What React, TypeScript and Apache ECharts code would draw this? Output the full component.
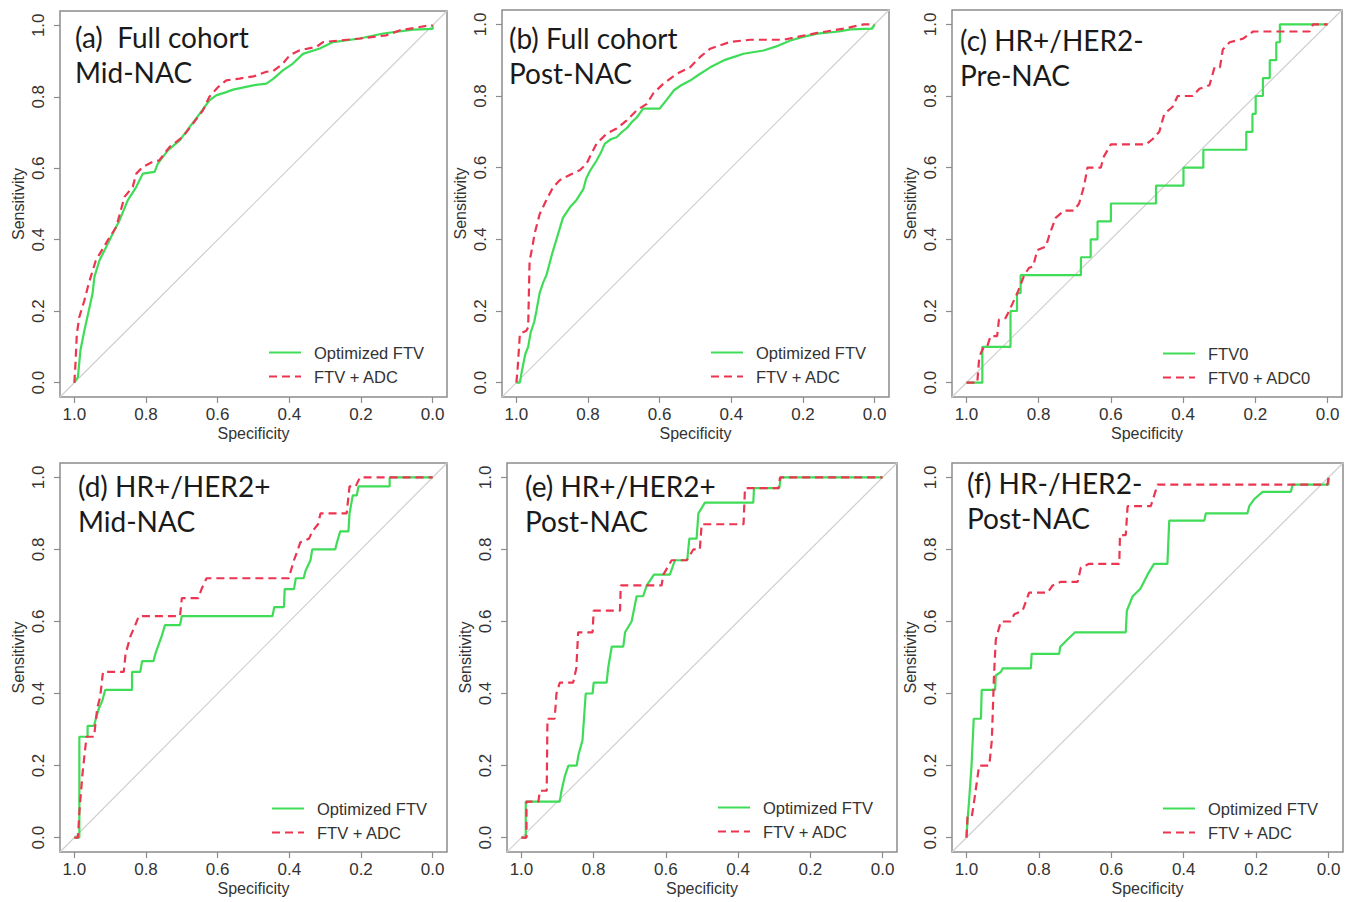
import React, { useEffect, useRef } from "react";
import * as echarts from "echarts";

// ---------- data: [specificity, sensitivity] ----------
const TICKS = [0, 0.2, 0.4, 0.6, 0.8, 1.0];
const DIAG = [[1.04, -0.04], [-0.04, 1.04]];

const namesMain = ["Optimized FTV", "FTV + ADC"];
const namesPre = ["FTV0", "FTV0 + ADC0"];

const titleA = "(a)  Full cohort\nMid-NAC";
const titleB = "(b) Full cohort\nPost-NAC";
const titleC = "(c) HR+/HER2-\nPre-NAC";
const titleD = "(d) HR+/HER2+\nMid-NAC";
const titleE = "(e) HR+/HER2+\nPost-NAC";
const titleF = "(f) HR-/HER2-\nPost-NAC";

const aFtv = [
  [1.0, 0], [0.99, 0.016], [0.983, 0.09], [0.972, 0.146], [0.96, 0.2], [0.949, 0.25], [0.944, 0.296],
  [0.93, 0.342], [0.911, 0.38], [0.893, 0.417], [0.874, 0.454], [0.851, 0.51], [0.827, 0.548],
  [0.809, 0.585], [0.776, 0.59], [0.767, 0.613], [0.739, 0.65], [0.706, 0.678], [0.678, 0.716],
  [0.65, 0.753], [0.623, 0.79], [0.604, 0.804], [0.576, 0.813], [0.557, 0.82], [0.501, 0.832],
  [0.464, 0.837], [0.445, 0.85], [0.418, 0.874], [0.39, 0.893], [0.362, 0.92], [0.315, 0.935],
  [0.278, 0.953], [0.203, 0.963], [0.138, 0.977], [0.054, 0.988], [0.0, 0.99], [0.0, 1.0],
];
const aComb = [
  [1.0, 0], [0.997, 0.05], [0.993, 0.137], [0.986, 0.184], [0.972, 0.23], [0.96, 0.277], [0.94, 0.342],
  [0.907, 0.398], [0.883, 0.436], [0.86, 0.52], [0.837, 0.548], [0.827, 0.585], [0.809, 0.604],
  [0.781, 0.618], [0.763, 0.622], [0.734, 0.66], [0.697, 0.688], [0.669, 0.725], [0.641, 0.762],
  [0.623, 0.8], [0.6, 0.826], [0.576, 0.846], [0.539, 0.851], [0.5, 0.857], [0.464, 0.87],
  [0.445, 0.872], [0.418, 0.893], [0.399, 0.916], [0.371, 0.93], [0.324, 0.94], [0.306, 0.953],
  [0.203, 0.963], [0.129, 0.972], [0.091, 0.986], [0.007, 1.0], [0.0, 1.0],
];

const bFtv = [
  [1, 0], [0.99, 0.0], [0.985, 0.03], [0.975, 0.08], [0.967, 0.1], [0.96, 0.14], [0.95, 0.17],
  [0.944, 0.2], [0.935, 0.25], [0.925, 0.28], [0.916, 0.3], [0.9, 0.36], [0.888, 0.4], [0.87, 0.46],
  [0.85, 0.49], [0.832, 0.51], [0.813, 0.54], [0.805, 0.57], [0.795, 0.59], [0.776, 0.62],
  [0.765, 0.64], [0.753, 0.667], [0.735, 0.68], [0.72, 0.685], [0.705, 0.7], [0.692, 0.71],
  [0.675, 0.73], [0.664, 0.74], [0.646, 0.765], [0.6, 0.765], [0.58, 0.79], [0.56, 0.816],
  [0.54, 0.83], [0.515, 0.843], [0.49, 0.86], [0.459, 0.88], [0.42, 0.9], [0.39, 0.91],
  [0.366, 0.918], [0.31, 0.927], [0.27, 0.94], [0.235, 0.955], [0.2, 0.965], [0.16, 0.974],
  [0.1, 0.98], [0.067, 0.986], [0.007, 0.988], [0, 1],
];
const bComb = [
  [1, 0], [0.997, 0.03], [0.99, 0.137], [0.972, 0.145], [0.967, 0.155], [0.963, 0.34], [0.955, 0.38],
  [0.949, 0.416], [0.935, 0.47], [0.916, 0.51], [0.897, 0.546], [0.879, 0.565], [0.85, 0.58],
  [0.823, 0.593], [0.804, 0.611], [0.79, 0.64], [0.776, 0.667], [0.748, 0.695], [0.72, 0.709],
  [0.692, 0.732], [0.664, 0.76], [0.636, 0.778], [0.618, 0.807], [0.59, 0.834], [0.552, 0.862],
  [0.515, 0.88], [0.487, 0.909], [0.459, 0.932], [0.403, 0.951], [0.347, 0.957], [0.254, 0.957],
  [0.216, 0.965], [0.16, 0.976], [0.086, 0.988], [0.03, 1], [0, 1],
];

const cFtv = [
  [1, 0], [0.956, 0], [0.956, 0.1], [0.878, 0.1], [0.878, 0.2], [0.86, 0.2], [0.86, 0.25], [0.85, 0.25],
  [0.85, 0.3], [0.683, 0.3], [0.683, 0.35], [0.656, 0.35], [0.656, 0.4], [0.637, 0.4], [0.637, 0.45],
  [0.6, 0.45], [0.6, 0.5], [0.475, 0.5], [0.475, 0.55], [0.399, 0.55], [0.399, 0.6], [0.344, 0.6],
  [0.344, 0.65], [0.225, 0.65], [0.225, 0.7], [0.208, 0.7], [0.208, 0.75], [0.199, 0.75], [0.199, 0.8],
  [0.179, 0.8], [0.179, 0.85], [0.16, 0.85], [0.16, 0.9], [0.142, 0.9], [0.142, 0.95], [0.132, 0.95],
  [0.132, 1], [0, 1],
];
const cComb = [
  [1, 0], [0.97, 0], [0.965, 0.065], [0.96, 0.083], [0.952, 0.1], [0.943, 0.1], [0.933, 0.13],
  [0.915, 0.13], [0.91, 0.176], [0.892, 0.18], [0.882, 0.2], [0.859, 0.25], [0.84, 0.3], [0.827, 0.32],
  [0.815, 0.325], [0.804, 0.37], [0.78, 0.38], [0.771, 0.41], [0.753, 0.46], [0.73, 0.48], [0.703, 0.48],
  [0.688, 0.5], [0.674, 0.55], [0.665, 0.6], [0.628, 0.6], [0.62, 0.63], [0.6, 0.665], [0.503, 0.665],
  [0.484, 0.68], [0.466, 0.7], [0.452, 0.75], [0.429, 0.77], [0.415, 0.8], [0.373, 0.8], [0.355, 0.82],
  [0.327, 0.83], [0.313, 0.88], [0.298, 0.88], [0.29, 0.93], [0.271, 0.95], [0.234, 0.96],
  [0.206, 0.98], [0.05, 0.98], [0.04, 1], [0, 1],
];

const dFtv = [
  [1, 0], [0.986, 0], [0.986, 0.28], [0.963, 0.28], [0.963, 0.31], [0.945, 0.31], [0.94, 0.33],
  [0.931, 0.36], [0.922, 0.38], [0.914, 0.41], [0.839, 0.41], [0.839, 0.46], [0.816, 0.46],
  [0.811, 0.49], [0.779, 0.49], [0.774, 0.51], [0.756, 0.56], [0.747, 0.59], [0.705, 0.59],
  [0.7, 0.615], [0.447, 0.615], [0.442, 0.64], [0.415, 0.64], [0.413, 0.69], [0.387, 0.69],
  [0.382, 0.72], [0.36, 0.72], [0.355, 0.74], [0.341, 0.77], [0.336, 0.8], [0.272, 0.8],
  [0.267, 0.82], [0.258, 0.85], [0.235, 0.85], [0.232, 0.9], [0.223, 0.95], [0.212, 0.95],
  [0.207, 0.975], [0.12, 0.975], [0.12, 1], [0, 1],
];
const dComb = [
  [1, 0], [0.99, 0], [0.986, 0.07], [0.977, 0.18], [0.966, 0.28], [0.945, 0.28], [0.936, 0.36],
  [0.928, 0.39], [0.92, 0.46], [0.862, 0.46], [0.857, 0.51], [0.843, 0.56], [0.83, 0.59],
  [0.82, 0.615], [0.705, 0.615], [0.7, 0.665], [0.654, 0.665], [0.645, 0.69], [0.631, 0.72],
  [0.401, 0.72], [0.396, 0.74], [0.387, 0.77], [0.369, 0.82], [0.345, 0.83], [0.336, 0.85],
  [0.32, 0.87], [0.313, 0.9], [0.24, 0.9], [0.232, 0.975], [0.215, 0.975], [0.203, 1], [0, 1],
];

const eFtv = [
  [1, 0], [0.988, 0], [0.988, 0.1], [0.894, 0.1], [0.889, 0.13], [0.88, 0.17], [0.87, 0.2],
  [0.847, 0.2], [0.842, 0.23], [0.831, 0.27], [0.822, 0.4], [0.803, 0.4], [0.8, 0.43], [0.764, 0.43],
  [0.76, 0.47], [0.75, 0.53], [0.718, 0.53], [0.713, 0.57], [0.695, 0.6], [0.681, 0.67],
  [0.663, 0.67], [0.653, 0.7], [0.633, 0.73], [0.589, 0.73], [0.575, 0.77], [0.541, 0.77],
  [0.535, 0.83], [0.515, 0.83], [0.51, 0.9], [0.492, 0.93], [0.358, 0.93], [0.356, 0.97],
  [0.286, 0.97], [0.282, 1], [0, 1],
];
const eComb = [
  [1, 0], [0.986, 0], [0.986, 0.1], [0.953, 0.1], [0.949, 0.13], [0.93, 0.13], [0.928, 0.33],
  [0.908, 0.33], [0.903, 0.4], [0.894, 0.43], [0.857, 0.43], [0.848, 0.47], [0.843, 0.57],
  [0.803, 0.57], [0.8, 0.63], [0.727, 0.63], [0.725, 0.7], [0.612, 0.7], [0.607, 0.73],
  [0.584, 0.77], [0.542, 0.77], [0.524, 0.8], [0.506, 0.8], [0.501, 0.87], [0.385, 0.87],
  [0.381, 0.97], [0.288, 0.97], [0.284, 1], [0, 1],
];

const fFtv = [
  [1, 0], [0.997, 0.05], [0.993, 0.1], [0.986, 0.2], [0.98, 0.33], [0.96, 0.33], [0.958, 0.41],
  [0.921, 0.41], [0.919, 0.45], [0.905, 0.46], [0.9, 0.47], [0.822, 0.47], [0.82, 0.51],
  [0.744, 0.51], [0.741, 0.53], [0.721, 0.55], [0.7, 0.57], [0.56, 0.57], [0.557, 0.63],
  [0.541, 0.67], [0.52, 0.69], [0.5, 0.73], [0.482, 0.76], [0.445, 0.76], [0.44, 0.88],
  [0.343, 0.88], [0.339, 0.9], [0.224, 0.9], [0.219, 0.92], [0.205, 0.94], [0.182, 0.96],
  [0.104, 0.96], [0.099, 0.98], [0, 0.98], [0, 1],
];
const fComb = [
  [1, 0], [0.997, 0.06], [0.985, 0.06], [0.979, 0.1], [0.965, 0.2], [0.937, 0.2], [0.93, 0.27],
  [0.924, 0.45], [0.919, 0.55], [0.905, 0.6], [0.878, 0.6], [0.868, 0.62], [0.845, 0.63],
  [0.827, 0.68], [0.776, 0.68], [0.762, 0.7], [0.739, 0.71], [0.693, 0.71], [0.684, 0.75],
  [0.661, 0.76], [0.578, 0.76], [0.576, 0.84], [0.56, 0.84], [0.555, 0.92], [0.491, 0.92],
  [0.472, 0.98], [0.003, 0.98], [0, 1],
];

// ---------- panels & layout ----------
const panels = [
  { title: titleA, names: namesMain, ftv: aFtv, comb: aComb },
  { title: titleB, names: namesMain, ftv: bFtv, comb: bComb },
  { title: titleC, names: namesPre, ftv: cFtv, comb: cComb },
  { title: titleD, names: namesMain, ftv: dFtv, comb: dComb },
  { title: titleE, names: namesMain, ftv: eFtv, comb: eComb },
  { title: titleF, names: namesMain, ftv: fFtv, comb: fComb },
];

// box: [left, top, width, height]; title: [left, top]; legend: [left, top]
const layout = [
  { box: [60, 11, 387, 386], title: [75, 19], legend: [268, 344] },
  { box: [502, 10, 387, 387], title: [509, 20], legend: [710, 344] },
  { box: [952, 10, 390, 387], title: [960, 22], legend: [1162, 345] },
  { box: [60, 463, 387, 389], title: [78, 468], legend: [271, 800] },
  { box: [507, 463, 390, 389], title: [525, 468], legend: [717, 799] },
  { box: [952, 463, 391, 389], title: [967, 465], legend: [1162, 800] },
];

const GREEN = "#3fdc58";
const RED = "#ec3550";
const FRAME = "#8c8c8c";
const TEXT = "#333333";
const SANS = "'Liberation Sans', Arial, sans-serif";

function buildOption() {
  const grid = layout.map((L) => ({
    left: L.box[0],
    top: L.box[1],
    width: L.box[2],
    height: L.box[3],
    show: true,
    borderColor: FRAME,
    borderWidth: 1.5,
    backgroundColor: "transparent",
    containLabel: false,
    outerBoundsMode: "none",
  }));

  const xAxis = panels.map((_, i) => ({
    type: "value",
    gridIndex: i,
    min: -0.04,
    max: 1.04,
    inverse: true,
    name: "Specificity",
    nameLocation: "middle",
    nameGap: 28,
    nameTextStyle: { fontFamily: SANS, fontSize: 16, color: TEXT },
    axisLine: { show: false, onZero: false },
    axisTick: { show: true, customValues: TICKS, length: 6, lineStyle: { color: FRAME, width: 1.2 } },
    axisLabel: {
      customValues: TICKS,
      formatter: (v: number) => v.toFixed(1),
      fontFamily: SANS,
      fontSize: 17,
      color: TEXT,
      margin: 9,
    },
    splitLine: { show: false },
  }));

  const yAxis = panels.map((_, i) => ({
    type: "value",
    gridIndex: i,
    min: -0.04,
    max: 1.04,
    name: "Sensitivity",
    nameLocation: "middle",
    nameGap: 34,
    nameTextStyle: { fontFamily: SANS, fontSize: 16, color: TEXT },
    axisLine: { show: false, onZero: false },
    axisTick: { show: true, customValues: TICKS, length: 6, lineStyle: { color: FRAME, width: 1.2 } },
    axisLabel: {
      customValues: TICKS,
      formatter: (v: number) => v.toFixed(1),
      rotate: 90,
      fontFamily: SANS,
      fontSize: 17,
      color: TEXT,
      margin: 13,
    },
    splitLine: { show: false },
  }));

  const series: any[] = [];
  panels.forEach((p, i) => {
    series.push({
      type: "line",
      xAxisIndex: i,
      yAxisIndex: i,
      data: DIAG,
      symbol: "none",
      silent: true,
      lineStyle: { color: "#cfcfcf", width: 1.2 },
      z: 1,
    });
    series.push({
      name: p.names[0],
      type: "line",
      xAxisIndex: i,
      yAxisIndex: i,
      data: p.ftv,
      symbol: "none",
      showSymbol: false,
      color: GREEN,
      lineStyle: { color: GREEN, width: 2.2 },
      z: 2,
    });
    series.push({
      name: p.names[1],
      type: "line",
      xAxisIndex: i,
      yAxisIndex: i,
      data: p.comb,
      symbol: "none",
      showSymbol: false,
      color: RED,
      lineStyle: { color: RED, width: 2.2, type: [8, 5] },
      z: 3,
    });
  });

  const title = panels.map((p, i) => ({
    text: p.title,
    left: layout[i].title[0],
    top: layout[i].title[1],
    padding: 0,
    textStyle: {
      fontFamily: "Lato, 'Open Sans', sans-serif",
      fontSize: 28,
      fontWeight: "normal",
      color: "#1a1a1a",
      lineHeight: 35,
    },
  }));

  const legend = panels.map((p, i) => ({
    orient: "vertical",
    left: layout[i].legend[0],
    top: layout[i].legend[1],
    padding: 0,
    itemWidth: 32,
    itemHeight: 14,
    itemGap: 7,
    selectedMode: false,
    itemStyle: { opacity: 0, borderWidth: 0 },
    data: p.names,
    textStyle: { fontFamily: SANS, fontSize: 16.5, color: TEXT, padding: [0, 0, 0, 8] },
  }));

  return {
    animation: false,
    backgroundColor: "#ffffff",
    title,
    legend,
    grid,
    xAxis,
    yAxis,
    series,
  };
}

export default function App() {
  const ref = useRef<HTMLDivElement>(null);
  useEffect(() => {
    if (!ref.current) return;
    const chart = echarts.init(ref.current, undefined, { renderer: "svg" });
    chart.setOption(buildOption() as any);
    return () => chart.dispose();
  }, []);
  return (
    <div
      ref={ref}
      style={{ position: "absolute", left: 0, top: 0, width: 1353, height: 902 }}
    />
  );
}
